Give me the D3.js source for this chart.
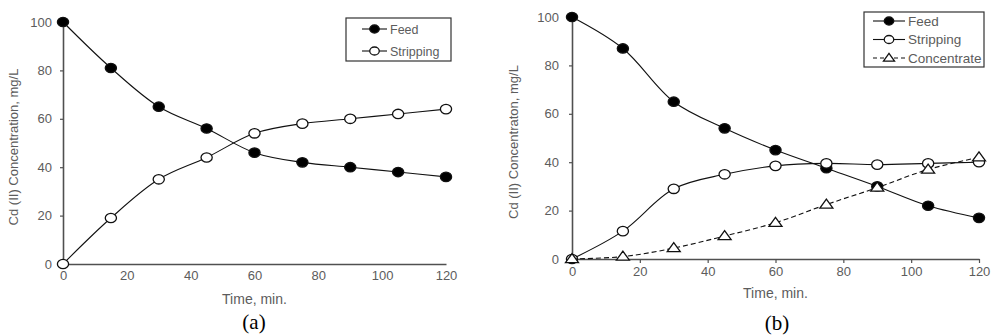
<!DOCTYPE html>
<html>
<head>
<meta charset="utf-8">
<script src="https://cdn.jsdelivr.net/npm/d3@7"></script>
<style>
  body { margin: 0; background: #fff; }
  svg { display: block; }
  text { font-family: "Liberation Sans", Arial, sans-serif; }
</style>
</head>
<body>
<svg id="chart" width="991" height="336"></svg>
<script>
// data
const times = [0, 15, 30, 45, 60, 75, 90, 105, 120];
const xTicks = [0, 20, 40, 60, 80, 100, 120];
const yTicks = [0, 20, 40, 60, 80, 100];

const feedA = [100, 81, 65, 56, 46, 42, 40, 38, 36];
const stripA = [0, 19, 35, 44, 54, 58, 60, 62, 64];

const feedB = [100, 87, 65, 54, 45, 37.5, 30, 22, 17];
const stripB = [0, 11.5, 29, 35, 38.5, 39.5, 39, 39.5, 40];
const concB = [0, 1, 4.5, 9.5, 15, 22.5, 29.5, 37, 42];

const svg = d3.select("#chart");
const axisColor = "#505050";
const textColor = "#5c5c5c";

// one panel
function panel(cfg) {
  const x = d3.scaleLinear().domain([0, 120]).range([cfg.x0, cfg.x1]);
  const y = d3.scaleLinear().domain([0, 100]).range([cfg.y0, cfg.y1]);
  const g = svg.append("g");

  // axes
  const ax = g.append("g")
    .attr("transform", `translate(0,${cfg.y0})`)
    .call(d3.axisBottom(x).tickValues(xTicks).tickSize(cfg.xTick).tickPadding(cfg.xTick ? 4 : 7).tickSizeOuter(0));
  const ay = g.append("g")
    .attr("transform", `translate(${cfg.x0},0)`)
    .call(d3.axisLeft(y).tickValues(yTicks).tickSize(3).tickPadding(cfg.yPad).tickSizeOuter(0));
  [ax, ay].forEach(a => {
    a.select(".domain").attr("stroke", axisColor).attr("stroke-width", 1.6);
    a.selectAll(".tick line").attr("stroke", axisColor).attr("stroke-width", 1.2);
    a.selectAll(".tick text").attr("fill", textColor).attr("font-size", 13)
      .attr("font-family", "Liberation Sans, Arial, sans-serif");
  });

  // titles
  g.append("text")
    .attr("x", (cfg.x0 + cfg.x1) / 2).attr("y", cfg.xTitleY)
    .attr("text-anchor", "middle").attr("fill", textColor).attr("font-size", 14)
    .text("Time, min.");
  g.append("text")
    .attr("transform", `translate(${cfg.yTitleX},${(cfg.y0 + cfg.y1) / 2 + 4}) rotate(-90)`)
    .attr("text-anchor", "middle").attr("fill", textColor).attr("font-size", 13)
    .text(cfg.yTitle);
  g.append("text")
    .attr("x", cfg.capX).attr("y", cfg.capY)
    .attr("text-anchor", "middle").attr("fill", "#000").attr("font-size", 21)
    .style("font-family", "Liberation Serif, 'Times New Roman', serif")
    .text(cfg.caption);

  const line = d3.line()
    .x((d, i) => x(times[i]))
    .y(d => y(d))
    .curve(d3.curveCatmullRom.alpha(0.5));

  cfg.series.forEach(s => {
    g.append("path")
      .attr("d", line(s.values))
      .attr("fill", "none")
      .attr("stroke", "#111")
      .attr("stroke-width", 1.1)
      .attr("stroke-dasharray", s.dash ? "5,3" : null);
    const m = g.append("g");
    s.values.forEach((v, i) => drawMarker(m, s.marker, x(times[i]), y(v)));
  });

  // legend
  const lg = g.append("g");
  lg.append("rect")
    .attr("x", cfg.legend.x).attr("y", cfg.legend.y)
    .attr("width", cfg.legend.w).attr("height", cfg.legend.h)
    .attr("fill", "#fff").attr("stroke", "#333").attr("stroke-width", 1.2);
  cfg.series.forEach((s, i) => {
    const ly = cfg.legend.y + cfg.legend.first + i * cfg.legend.step;
    const lx = cfg.legend.x + cfg.legend.lineX;
    lg.append("line")
      .attr("x1", lx).attr("x2", lx + cfg.legend.lineW)
      .attr("y1", ly).attr("y2", ly)
      .attr("stroke", "#111").attr("stroke-width", 1.1)
      .attr("stroke-dasharray", s.dash ? "4,3" : null);
    drawMarker(lg, s.marker, lx + cfg.legend.lineW / 2, ly, 0.85);
    lg.append("text")
      .attr("x", lx + cfg.legend.lineW + 3).attr("y", ly + 4.5)
      .attr("fill", textColor).attr("font-size", cfg.legend.fs)
      .text(s.name);
  });
}

function drawMarker(g, type, cx, cy, k = 1) {
  if (type === "tri") {
    const w = 6.5 * k, h = 9 * k;
    g.append("path")
      .attr("d", `M${cx},${cy - h * 0.6}L${cx + w},${cy + h * 0.4}L${cx - w},${cy + h * 0.4}Z`)
      .attr("fill", "#fff").attr("stroke", "#111").attr("stroke-width", 1.3);
  } else {
    g.append("ellipse")
      .attr("cx", cx).attr("cy", cy).attr("rx", 5.6 * k).attr("ry", 4.7 * k)
      .attr("fill", type === "filled" ? "#000" : "#fff")
      .attr("stroke", "#111").attr("stroke-width", 1.3);
  }
}

panel({
  x0: 63, x1: 446, y0: 264, y1: 22,
  xTick: 0, yPad: 8,
  xTitleY: 304, yTitleX: 18, yTitle: "Cd (II) Concentration, mg/L",
  capX: 254, capY: 329, caption: "(a)",
  series: [
    { name: "Feed", values: feedA, marker: "filled" },
    { name: "Stripping", values: stripA, marker: "open" }
  ],
  legend: { x: 346, y: 18, w: 105, h: 43, first: 11, step: 22, lineX: 16, lineW: 25, fs: 12.5 }
});

panel({
  x0: 572, x1: 979, y0: 259, y1: 17,
  xTick: 4, yPad: 10,
  xTitleY: 298, yTitleX: 518, yTitle: "Cd (II) Concentraton, mg/L",
  capX: 777, capY: 330, caption: "(b)",
  series: [
    { name: "Feed", values: feedB, marker: "filled" },
    { name: "Stripping", values: stripB, marker: "open" },
    { name: "Concentrate", values: concB, marker: "tri", dash: true }
  ],
  legend: { x: 864, y: 12, w: 120, h: 55, first: 9, step: 18.5, lineX: 9, lineW: 32, fs: 13.5 }
});
</script>
</body>
</html>
